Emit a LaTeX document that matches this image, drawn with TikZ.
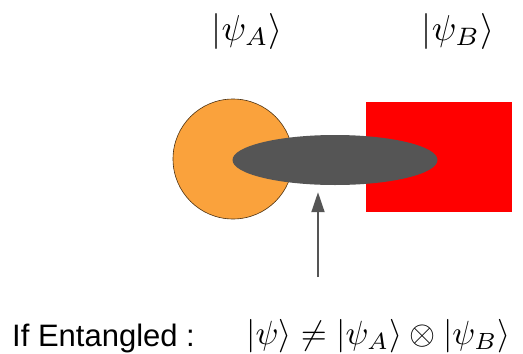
\documentclass[tikz,border=0pt]{standalone}
\usepackage{amsmath, amssymb}
\usepackage{fontspec}
\setsansfont{Liberation Sans}
\usetikzlibrary{shapes.geometric, arrows.meta}
\definecolor{qorange}{RGB}{250,162,60}
\definecolor{qred}{RGB}{255,0,0}
\definecolor{qgrey}{RGB}{85,85,85}
\newcommand{\bigmath}[2]{\scalebox{#1}{$#2$}}
\tikzset{
  ketlabel/.style={inner sep=0pt},
  partA/.style={circle, fill=qorange, draw=black!70!qorange, line width=0.6pt,
    minimum size=120pt, inner sep=0pt},
  partB/.style={rectangle, fill=qred, draw=none,
    minimum width=146pt, minimum height=110pt, inner sep=0pt},
  bond/.style={ellipse, fill=qgrey, draw=none,
    minimum width=205pt, minimum height=50pt, inner sep=0pt},
  pointer/.style={qgrey, line width=1.8pt, -{Triangle[length=20pt, width=13pt]}}
}

\begin{document}
\begin{tikzpicture}[x=1pt, y=-1pt]
  \useasboundingbox (0,0) rectangle (523,354);
  % the two subsystems and the entangling bond
  \node[partA] (sysA) at (233,159) {};
  \node[partB] (sysB) at (439,157) {};
  \node[bond] (blob) at (335,160) {};
  % state labels
  \node[ketlabel] (ketA) at (247,31) {\bigmath{3.6}{|\psi_A\rangle}};
  \node[ketlabel] (ketB) at (458,31) {\bigmath{3.6}{|\psi_B\rangle}};
  % arrow up to the bond
  \coordinate (foot) at (318,277);
  \draw[pointer, shorten >=7pt] (foot) -- (blob.south -| foot);
  % condition line
  \node[font=\sffamily\fontsize{31}{36}\selectfont, inner sep=0pt, anchor=west]
    (cond) at (12,338) {If Entangled :};
  \node[ketlabel, anchor=west] (formula) at (246,336)
    {\bigmath{3.35}{|\psi\rangle \neq |\psi_A\rangle \otimes |\psi_B\rangle}};
\end{tikzpicture}
\end{document}
